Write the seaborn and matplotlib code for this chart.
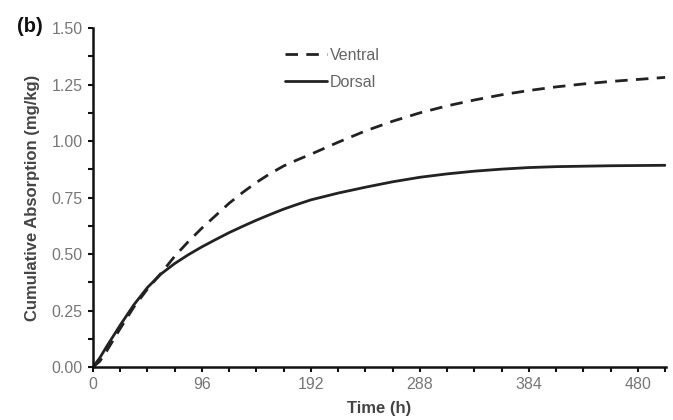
import seaborn as sns
import matplotlib.pyplot as plt
import pandas as pd
from matplotlib.ticker import MultipleLocator

# values
time_h = [0, 6, 12, 24, 36, 48, 60, 72, 84, 96, 108, 120, 132, 144, 156, 168, 180, 192,
          216, 240, 264, 288, 312, 336, 360, 384, 408, 432, 456, 480, 504]
ventral = [0, 0.025, 0.07, 0.17, 0.265, 0.345, 0.415, 0.49, 0.555, 0.615, 0.67, 0.725,
           0.773, 0.817, 0.856, 0.89, 0.917, 0.942, 0.995, 1.045, 1.088, 1.125, 1.156,
           1.182, 1.205, 1.224, 1.24, 1.253, 1.264, 1.273, 1.282]
dorsal = [0, 0.04, 0.09, 0.185, 0.275, 0.352, 0.412, 0.458, 0.497, 0.532, 0.564, 0.595,
          0.623, 0.65, 0.675, 0.699, 0.72, 0.74, 0.77, 0.796, 0.82, 0.84, 0.855, 0.867,
          0.876, 0.883, 0.887, 0.889, 0.891, 0.892, 0.893]

df = pd.DataFrame({
    "Time": time_h * 2,
    "Absorption": ventral + dorsal,
    "Site": ["Ventral"] * len(time_h) + ["Dorsal"] * len(time_h),
})

sns.set_style("ticks")
plt.rcParams['font.family'] = ['Liberation Sans', 'DejaVu Sans']

fig = plt.figure(figsize=(6.73, 4.2), dpi=100)
ax = fig.add_axes([0.138, 0.126, 0.852, 0.807])

sns.lineplot(data=df, x="Time", y="Absorption", style="Site",
             dashes={"Ventral": (4.5, 3), "Dorsal": ""}, color="#222222",
             linewidth=2, ax=ax)

ax.set_xlim(0, 505)
ax.set_ylim(0, 1.5)
ax.xaxis.set_major_locator(MultipleLocator(96))
ax.xaxis.set_minor_locator(MultipleLocator(24))
ax.yaxis.set_major_locator(MultipleLocator(0.25))
ax.yaxis.set_minor_locator(MultipleLocator(0.125))
ax.yaxis.set_major_formatter(plt.FuncFormatter(lambda v, p: "%.2f" % v))

ax.tick_params(which="both", direction="out", length=3.5, width=1.5, color="#111111",
               labelsize=11.5, labelcolor="#777777", pad=4)
for s in ["left", "bottom"]:
    ax.spines[s].set_linewidth(1.8)
    ax.spines[s].set_color("#111111")
sns.despine(ax=ax)

ax.set_xlabel("Time (h)", fontsize=12, fontweight="bold", color="#444444", labelpad=6)
ax.set_ylabel("Cumulative Absorption (mg/kg)", fontsize=12, fontweight="bold",
              color="#444444", labelpad=8)

leg = ax.legend(loc="upper left", bbox_to_anchor=(0.31, 0.985), frameon=False,
                fontsize=11.5, handlelength=2.6, handletextpad=0.2, labelspacing=0.75)
for t in leg.get_texts():
    t.set_color("#666666")

fig.text(0.025, 0.925, "(b)", fontsize=14.5, fontweight="bold", color="#111111")

plt.savefig("out.png")
